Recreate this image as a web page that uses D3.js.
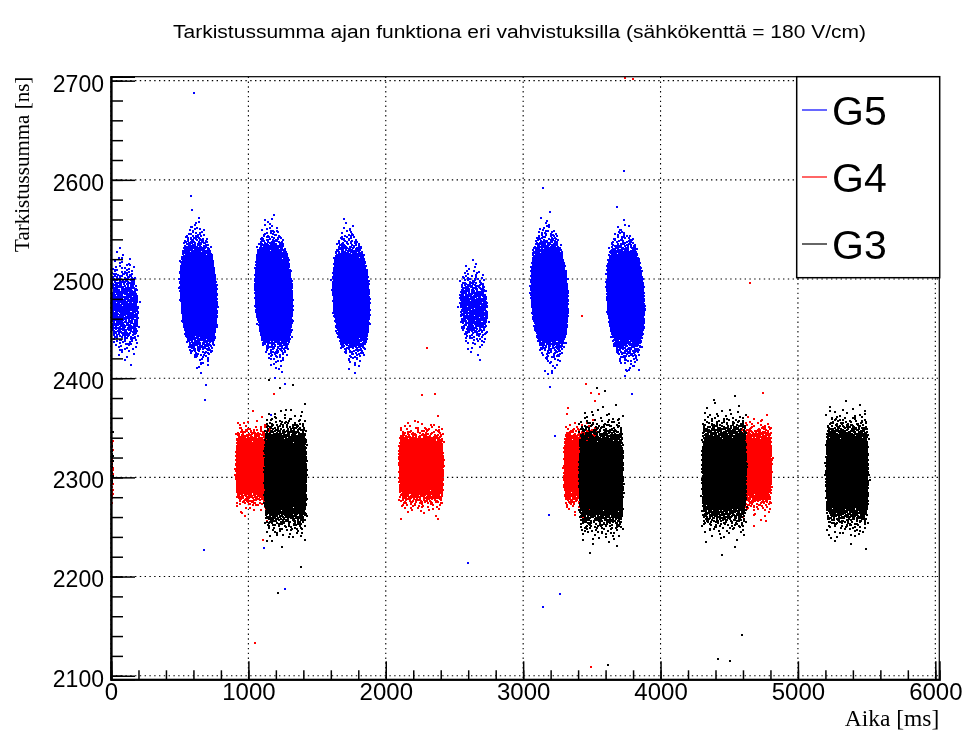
<!DOCTYPE html>
<html>
<head>
<meta charset="utf-8">
<script src="https://cdn.jsdelivr.net/npm/d3@7"></script>
<style>
  body { margin: 0; background: #fff; }
  #chart { position: relative; width: 963px; height: 731px; }
  #chart svg, #chart canvas { position: absolute; left: 0; top: 0; }
</style>
</head>
<body>
<div id="chart"></div>
<script>
// G5 clusters: centre time [ms], centre sum [ns], half width [ms], spread [ns], points
const g5Time = [95, 638, 1185, 1748, 2640, 3192, 3745];
const g5Sum = [2472, 2484, 2484, 2482, 2471, 2484, 2481];
const g5HalfWidth = [100, 125, 128, 125, 95, 125, 128];
const g5Spread = [19, 22, 22, 21, 16, 22, 22];
const g5Count = [800, 7000, 7000, 7000, 650, 7000, 7000];

// G4 clusters
const g4Time = [4, 1035, 2258, 3420, 4690];
const g4Sum = [2308, 2311, 2310, 2310, 2311];
const g4HalfWidth = [4, 117, 152, 113, 110];
const g4Spread = [18, 14, 14, 14, 15];
const g4Count = [70, 5000, 6000, 5000, 5000];

// G3 clusters
const g3Time = [4, 1270, 3568, 4464, 5358];
const g3Sum = [2318, 2302, 2301, 2304, 2304];
const g3HalfWidth = [4, 145, 152, 153, 145];
const g3Spread = [15, 20, 20, 20, 20];
const g3Count = [30, 7000, 7000, 7000, 7000];

// single stray points
const g5OutTime = [607, 579, 3147, 3736, 681, 675, 2601, 3147, 3271, 1269, 1117, 1168, 3199, 3235, 3191, 3756, 3846, 3162, 3212, 1268];
const g5OutSum = [2688, 2584, 2592, 2609, 2378, 2227, 2214, 2169, 2182, 2394, 2229, 2363, 2391, 2342, 2262, 2407, 2408, 2407, 2405, 2187];
const g4OutTime = [1046, 4654, 2264, 2361, 2302, 2383, 1107, 978, 1189, 3429, 3458, 3494, 3555, 3324, 3525, 4746, 4678, 4768, 3494, 3740, 3800];
const g4OutSum = [2133, 2496, 2383, 2384, 2430, 2258, 2237, 2261, 2384, 2463, 2394, 2385, 2384, 2370, 2377, 2385, 2251, 2256, 2109, 2703, 2702];
const g3OutTime = [3538, 3593, 3615, 4418, 4508, 4593, 1153, 1325, 1212];
const g3OutSum = [2390, 2387, 2111, 2117, 2115, 2141, 2398, 2393, 2183];

const seriesNames = ["G5", "G4", "G3"];
const xTicks = d3.range(0, 6001, 1000);
const yTicks = d3.range(2100, 2701, 100);

const W = 963, H = 731;
const frame = { left: 111, right: 939.3, top: 76.7, bottom: 679.3 };

const x = d3.scaleLinear().domain([0, 6029]).range([frame.left, frame.right]);
const y = d3.scaleLinear().domain([2096.4, 2704]).range([frame.bottom, frame.top]);

// low discrepancy sequence, used to spread each cluster's points evenly
function halton(i, b) {
    let f = 1, r = 0;
    while (i > 0) { f /= b; r += f * (i % b); i = Math.floor(i / b); }
    return r;
}
function invNorm(p) {
    const q = Math.min(p, 1 - p);
    const t = Math.sqrt(-2 * Math.log(q));
    const z = t - (2.515517 + 0.802853 * t + 0.010328 * t * t) /
        (1 + 1.432788 * t + 0.189269 * t * t + 0.001308 * t * t * t);
    return p < 0.5 ? -z : z;
}

function clusterPoints(time, sum, halfWidth, spread, count, oval, seed) {
    const pts = [];
    const tilt = oval ? -0.33 : 0;
    for (let i = 1; i <= count; i++) {
        const k = seed * 7919 + i;
        const z = invNorm(halton(k, 3));
        const s = sum + spread * z;
        const shrink = oval ? Math.sqrt(Math.max(0.12, 1 - (z / 3.3) ** 2)) : 1;
        const t = time + halfWidth * (2 * halton(k, 2) - 1) * shrink
            + 6 * invNorm(halton(k, 5)) + tilt * (s - sum);
        pts.push([t, s]);
    }
    return pts;
}

function seriesPoints(times, sums, widths, spreads, counts, outT, outS, oval, seed0) {
    let pts = [];
    times.forEach((t, i) => {
        pts = pts.concat(clusterPoints(t, sums[i], widths[i], spreads[i], counts[i], oval, seed0 + i));
    });
    outT.forEach((t, i) => pts.push([t, outS[i]]));
    return pts;
}

const series = [
    { name: "G5", color: "#0000ff",
      points: seriesPoints(g5Time, g5Sum, g5HalfWidth, g5Spread, g5Count, g5OutTime, g5OutSum, true, 1) },
    { name: "G4", color: "#ff0000",
      points: seriesPoints(g4Time, g4Sum, g4HalfWidth, g4Spread, g4Count, g4OutTime, g4OutSum, false, 11) },
    { name: "G3", color: "#000000",
      points: seriesPoints(g3Time, g3Sum, g3HalfWidth, g3Spread, g3Count, g3OutTime, g3OutSum, false, 21) },
];

const chart = d3.select("#chart");

// grid underneath the points
const under = chart.append("svg").attr("width", W).attr("height", H);
under.selectAll("line.gx")
    .data(xTicks)
    .enter()
    .append("line")
    .attr("x1", d => x(d)).attr("x2", d => x(d))
    .attr("y1", frame.top).attr("y2", frame.bottom)
    .attr("stroke", "#000").attr("stroke-width", 1.1)
    .attr("stroke-dasharray", "1.4,3.4");
under.selectAll("line.gy")
    .data(yTicks)
    .enter()
    .append("line")
    .attr("x1", frame.left).attr("x2", frame.right)
    .attr("y1", d => y(d)).attr("y2", d => y(d))
    .attr("stroke", "#000").attr("stroke-width", 1.1)
    .attr("stroke-dasharray", "1.4,3.4");

// points on a canvas
const canvas = chart.append("canvas").attr("width", W).attr("height", H);
const ctx = canvas.node().getContext("2d");
ctx.save();
ctx.beginPath();
ctx.rect(frame.left, frame.top, frame.right - frame.left, frame.bottom - frame.top);
ctx.clip();
series.forEach(s => {
    ctx.fillStyle = s.color;
    s.points.forEach(p => {
        ctx.fillRect(Math.round(x(p[0])) - 1, Math.round(y(p[1])) - 1, 2, 2);
    });
});
ctx.restore();

// frame, axes, texts, legend on top
const svg = chart.append("svg").attr("width", W).attr("height", H);

svg.append("rect")
    .attr("x", frame.left).attr("y", frame.top)
    .attr("width", frame.right - frame.left)
    .attr("height", frame.bottom - frame.top)
    .attr("fill", "none").attr("stroke", "#000").attr("stroke-width", 1.2);

const xAxis = svg.append("g")
    .attr("transform", `translate(0, ${frame.bottom})`)
    .call(d3.axisBottom(x).tickValues(xTicks).tickSize(-18).tickPadding(4).tickFormat(d3.format("d")));
svg.append("g")
    .attr("transform", `translate(0, ${frame.bottom})`)
    .call(d3.axisBottom(x).tickValues(d3.range(0, 6001, 200)).tickSize(-9).tickFormat(""));

const yAxis = svg.append("g")
    .attr("transform", `translate(${frame.left}, 0)`)
    .call(d3.axisLeft(y).tickValues(yTicks).tickSize(-24).tickPadding(7).tickFormat(d3.format("d")));
svg.append("g")
    .attr("transform", `translate(${frame.left}, 0)`)
    .call(d3.axisLeft(y).tickValues(d3.range(2100, 2701, 20)).tickSize(-12).tickFormat(""));

svg.selectAll(".domain").attr("stroke-width", 1.8);
svg.selectAll(".tick line").attr("stroke-width", 1.5);
xAxis.selectAll("text")
    .attr("font-family", "Liberation Sans, Arial, sans-serif")
    .attr("font-size", 24).attr("fill", "#000");
yAxis.selectAll("text")
    .attr("font-family", "Liberation Sans, Arial, sans-serif")
    .attr("font-size", 23).attr("fill", "#000")
    .attr("dy", "0.45em");

svg.append("text")
    .attr("x", 173)
    .attr("y", 38)
    .attr("font-family", "Liberation Sans, Arial, sans-serif")
    .attr("font-size", 18)
    .attr("textLength", 693)
    .attr("lengthAdjust", "spacingAndGlyphs")
    .text("Tarkistussumma ajan funktiona eri vahvistuksilla (sähkökenttä = 180 V/cm)");

svg.append("text")
    .attr("x", frame.right)
    .attr("y", 726)
    .attr("text-anchor", "end")
    .attr("font-family", "Liberation Serif, Times New Roman, serif")
    .attr("font-size", 23.5)
    .text("Aika [ms]");

svg.append("text")
    .attr("transform", "rotate(-90)")
    .attr("x", -frame.top)
    .attr("y", 29)
    .attr("text-anchor", "end")
    .attr("font-family", "Liberation Serif, Times New Roman, serif")
    .attr("font-size", 21)
    .text("Tarkistussumma [ns]");

// legend
const legend = svg.append("g");
legend.append("rect")
    .attr("x", 796.7).attr("y", frame.top)
    .attr("width", 143).attr("height", 201)
    .attr("fill", "#fff").attr("stroke", "#000").attr("stroke-width", 1.5);

const rowY = [110, 177, 244];
const entries = legend.selectAll("g.entry")
    .data(series)
    .enter()
    .append("g")
    .attr("transform", (d, i) => `translate(0, ${rowY[i]})`);
entries.append("line")
    .attr("x1", 802).attr("x2", 827)
    .attr("stroke", d => d.color).attr("stroke-width", 1.2);
entries.append("text")
    .attr("x", 832)
    .attr("y", 14.5)
    .attr("font-family", "Liberation Sans, Arial, sans-serif")
    .attr("font-size", 41)
    .text(d => d.name);
</script>
</body>
</html>
